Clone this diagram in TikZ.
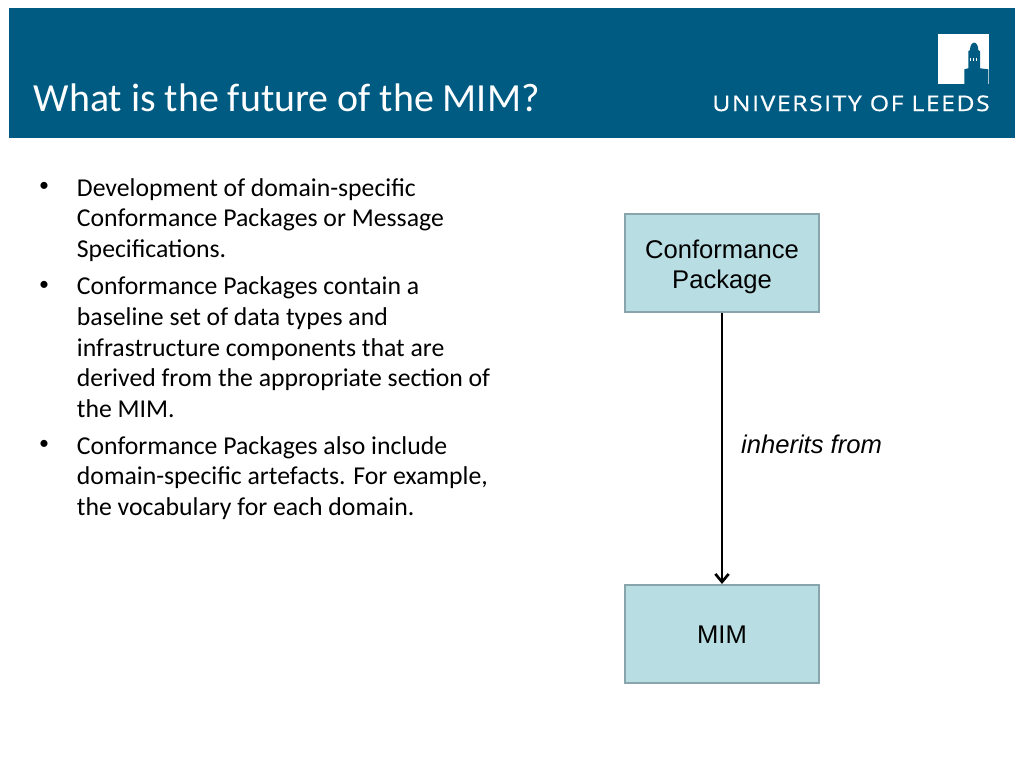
\documentclass[tikz,border=0pt]{standalone}
\usepackage{fontspec}
\setmainfont{Carlito}
\setsansfont{Liberation Sans}
\newfontfamily\logofont[FakeStretch=1.15,LetterSpace=7,FakeBold=0.6]{Open Sans}
\usetikzlibrary{positioning,arrows.meta}
\definecolor{banner}{RGB}{0,91,130}
\definecolor{boxfill}{RGB}{184,222,227}
\definecolor{boxline}{RGB}{135,165,170}
\tikzset{
	umlbox/.style={draw=boxline,line width=1.6pt,fill=boxfill,minimum width=5.1cm,minimum height=2.58cm,align=center,font=\sffamily\fontsize{19.2}{22.5}\selectfont},
	bodytext/.style={anchor=north west,align=left,font=\fontsize{19.3}{23}\selectfont,inner sep=0pt},
	bulletmark/.style={anchor=center,font=\fontsize{15}{15}\selectfont,inner sep=0pt}
}
\begin{document}
\begin{tikzpicture}[x=1pt,y=-1pt]
	\useasboundingbox (0,0) rectangle (768,576);
	% header
	\fill[banner] (6.5,6.2) rectangle (761.5,103.8);
	\node[anchor=west,text=white,inner sep=0pt,font=\fontsize{29.9}{32}\selectfont] (title) at (25,73.5) {What is the future of the MIM?};
	\node[anchor=east,text=white,inner sep=0pt,font=\logofont\fontsize{16.2}{18}\selectfont] (uni) at (742.5,77.5) {UNIVERSITY OF LEEDS};
	% logo
	\fill[white] (703.5,25.5) rectangle (741.5,63);
	\fill[banner] (727.5,37.5) .. controls (727.5,34) and (729,32) .. (730.6,32) .. controls (732.2,32) and (733.7,34) .. (733.7,37.5) -- (735,38.5) -- (735,51.2) -- (741.2,52) -- (741.2,63) -- (723.2,63) -- (723.2,52) -- (726.2,51.2) -- (726.2,38.5) -- cycle;
	\foreach \x in {727.5,730,732.5}{
		\draw[white,line width=0.3pt] (\x,43.5) -- ++(0,2.5);
	}
	% bullets
	\node[bulletmark] (b1) at (33,140.5) {•};
	\node[bodytext] (t1) at (57.5,133.4) {Development of domain-specific\\Conformance Packages or Message\\Specifications.};
	\node[bulletmark] (b2) at (33,214.5) {•};
	\node[bodytext] (t2) at (57.5,207.4) {Conformance Packages contain a\\baseline set of data types and\\infrastructure components that are\\derived from the appropriate section of\\the MIM.};
	\node[bulletmark] (b3) at (33,334) {•};
	\node[bodytext] (t3) at (57.5,327) {Conformance Packages also include\\domain-specific artefacts. For example,\\the vocabulary for each domain.};
	% boxes
	\node[umlbox] (cp) at (541.5,197) {\rule{0pt}{20pt}Conformance\\Package};
	\node[umlbox] (mim) at (541.5,475.5) {\rule{0pt}{14.5pt}MIM};
	\draw[-{Straight Barb[length=6pt,width=10pt]},line width=2pt] (cp) -- (mim) node[pos=0.485,right=10pt,font=\sffamily\itshape\fontsize{19.2}{24}\selectfont] (inh) {inherits from};
\end{tikzpicture}
\end{document}
